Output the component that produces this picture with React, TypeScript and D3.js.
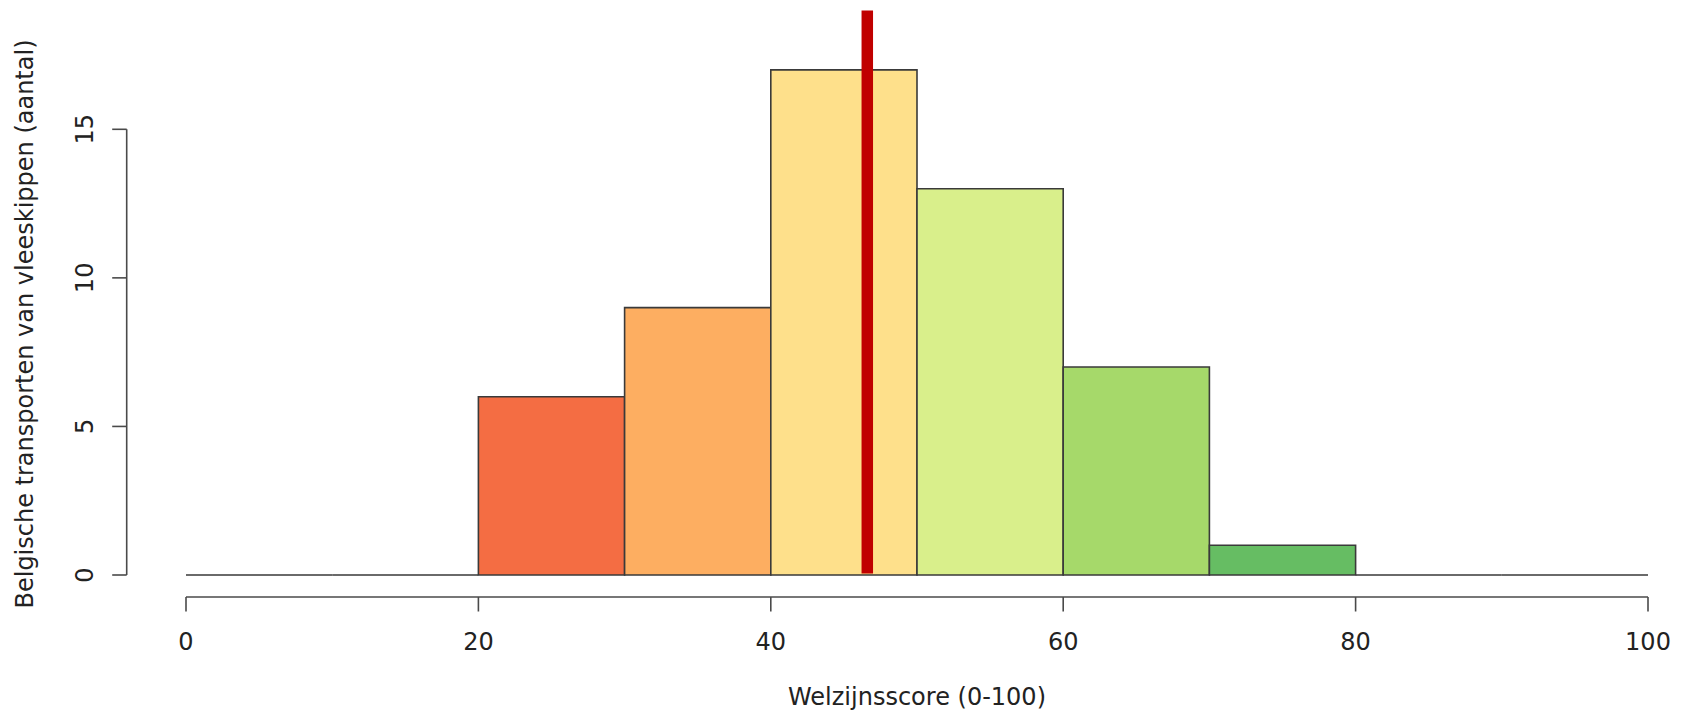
import React from 'react';
import * as d3 from 'd3';

// histogram bins (Welzijnsscore, width 10) and counts
const binStarts = [0, 10, 20, 30, 40, 50, 60, 70, 80, 90];
const counts = [0, 0, 6, 9, 17, 13, 7, 1, 0, 0];
const binColors = ['#a50026', '#d73027', '#f46d43', '#fdae61', '#fee08b', '#d9ef8b', '#a6d96a', '#66bd63', '#1a9850', '#006837'];
const xTicks = [0, 20, 40, 60, 80, 100];
const yTicks = [0, 5, 10, 15];
const meanScore = 46.6;
const meanLineRange = [0.05, 19];

const W = 1684;
const H = 711;
const FONT = '"DejaVu Sans", sans-serif';
const FS = 24;

const App: React.FC = () => {
  const x = d3.scaleLinear().domain([0, 100]).range([186, 1648]);
  const y = d3.scaleLinear().domain([0, 15]).range([575, 129.3]);

  const xAxisY = 597;
  const yAxisX = 126.7;
  const tick = 14.5;
  const axisColor = '#4a4a4a';

  // bar outline as a path so empty bins still draw their baseline
  const barPath = (b: number, c: number) => {
    const p = d3.path();
    p.moveTo(x(b), y(0));
    p.lineTo(x(b), y(c));
    p.lineTo(x(b + 10), y(c));
    p.lineTo(x(b + 10), y(0));
    p.closePath();
    return p.toString();
  };

  return (
    <svg width={W} height={H} style={{ position: 'absolute', left: 0, top: 0, background: '#fff' }} fontFamily={FONT}>
      {/* bars */}
      <g>
        {binStarts.map((b, i) => (
          <path
            key={b}
            d={barPath(b, counts[i])}
            fill={binColors[i]}
            stroke="#3a3a3a"
            strokeWidth={1.6}
          />
        ))}
      </g>

      {/* mean line */}
      <line
        x1={x(meanScore)}
        x2={x(meanScore)}
        y1={y(meanLineRange[0])}
        y2={y(meanLineRange[1])}
        stroke="#c00000"
        strokeWidth={11.5}
      />

      {/* x axis */}
      <g stroke={axisColor} strokeWidth={1.6} fill="none">
        <line x1={x(0)} x2={x(100)} y1={xAxisY} y2={xAxisY} />
        {xTicks.map(t => (
          <line key={t} x1={x(t)} x2={x(t)} y1={xAxisY} y2={xAxisY + tick} />
        ))}
      </g>
      {xTicks.map(t => (
        <text key={t} x={x(t)} y={650} textAnchor="middle" fontSize={FS} fill="#222">
          {t}
        </text>
      ))}
      <text x={(x(0) + x(100)) / 2} y={705} textAnchor="middle" fontSize={FS} fill="#222">
        Welzijnsscore (0-100)
      </text>

      {/* y axis */}
      <g stroke={axisColor} strokeWidth={1.6} fill="none">
        <line x1={yAxisX} x2={yAxisX} y1={y(0)} y2={y(15)} />
        {yTicks.map(t => (
          <line key={t} x1={yAxisX - tick} x2={yAxisX} y1={y(t)} y2={y(t)} />
        ))}
      </g>
      {yTicks.map(t => (
        <text key={t} transform={`translate(93,${y(t)}) rotate(-90)`} textAnchor="middle" fontSize={FS} fill="#222">
          {t}
        </text>
      ))}
      <text transform={`translate(33,324) rotate(-90)`} textAnchor="middle" fontSize={FS} fill="#222">
        Belgische transporten van vleeskippen (aantal)
      </text>
    </svg>
  );
};

export default App;
